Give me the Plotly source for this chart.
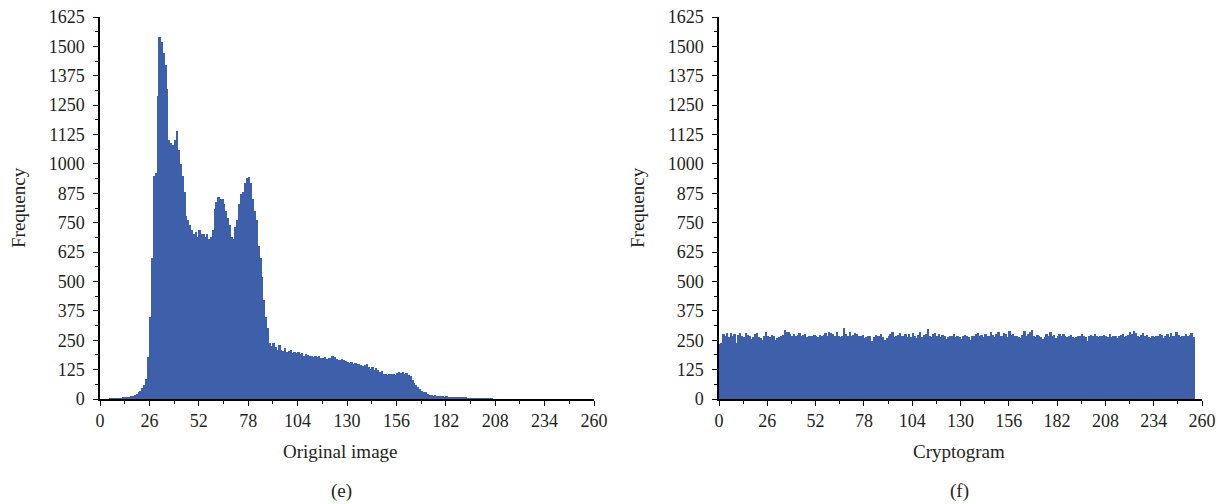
import plotly.graph_objects as go

# Grey levels 0..255
levels = list(range(256))

# Histogram of the original image (frequency per grey level)
original_freq = [
    0, 0, 0, 0, 0, 1, 1, 1, 2, 2, 3, 4, 5, 6, 7, 9,
    11, 14, 18, 22, 28, 35, 45, 60, 85, 180, 350, 600, 950, 960, 1290, 1540,
    1520, 1470, 1420, 1320, 1100, 1090, 1080, 1100, 1140, 1060, 1000, 950, 880, 780, 760, 740,
    720, 700, 710, 690, 720, 700, 700, 690, 700, 680, 690, 720, 810, 840, 860, 850,
    850, 830, 800, 770, 740, 690, 680, 730, 760, 830, 870, 880, 920, 940, 945, 920,
    850, 800, 760, 650, 600, 520, 420, 350, 300, 240, 225, 240, 220, 210, 230, 210,
    205, 215, 200, 205, 210, 195, 200, 195, 200, 190, 195, 185, 190, 188, 182, 185,
    180, 184, 178, 182, 176, 174, 178, 172, 176, 174, 183, 178, 170, 168, 166, 170,
    164, 160, 158, 155, 156, 150, 152, 148, 150, 144, 140, 146, 150, 138, 128, 136,
    124, 130, 122, 114, 118, 108, 106, 104, 106, 108, 106, 104, 112, 115, 110, 113,
    108, 112, 104, 96, 82, 70, 60, 50, 42, 34, 30, 28, 22, 18, 16, 14,
    15, 13, 12, 12, 11, 10, 12, 10, 9, 8, 8, 7, 7, 6, 6, 5,
    5, 4, 4, 3, 3, 3, 2, 2, 2, 2, 1, 1, 1, 1, 1, 0,
    0, 0, 0, 0, 0, 0, 0, 0, 0, 0, 0, 0, 0, 0, 0, 0,
    0, 0, 0, 0, 0, 0, 0, 0, 0, 0, 0, 0, 0, 0, 0, 0,
    0, 0, 0, 0, 0, 0, 0, 0, 0, 0, 0, 0, 0, 0, 0, 0,
]

# Histogram of the cryptogram (frequency per grey level)
cipher_freq = [
    232, 240, 278, 270, 281, 265, 279, 268, 276, 240, 272, 281, 270, 262, 279, 274,
    268, 256, 262, 275, 281, 262, 258, 250, 266, 285, 270, 262, 272, 266, 249, 258,
    262, 268, 274, 292, 287, 283, 278, 270, 276, 268, 274, 280, 266, 271, 276, 262,
    270, 266, 268, 271, 266, 262, 272, 266, 274, 280, 270, 285, 282, 276, 268, 284,
    270, 262, 270, 302, 278, 268, 286, 266, 274, 280, 276, 270, 268, 272, 258, 264,
    270, 268, 248, 262, 273, 268, 268, 276, 264, 252, 260, 268, 276, 286, 262, 270,
    273, 281, 266, 268, 276, 262, 276, 264, 282, 270, 260, 272, 287, 262, 273, 276,
    298, 270, 264, 278, 281, 266, 276, 262, 272, 270, 256, 262, 266, 270, 278, 264,
    268, 262, 256, 270, 274, 266, 262, 252, 266, 270, 276, 282, 268, 274, 262, 278,
    270, 266, 284, 272, 262, 278, 286, 268, 270, 282, 276, 264, 288, 272, 276, 266,
    270, 262, 258, 274, 290, 268, 276, 286, 294, 270, 262, 274, 268, 264, 256, 262,
    276, 270, 284, 266, 272, 258, 270, 278, 268, 276, 266, 262, 270, 274, 264, 258,
    262, 270, 266, 276, 268, 262, 248, 268, 272, 266, 276, 270, 262, 268, 266, 274,
    270, 264, 276, 262, 266, 270, 258, 268, 272, 278, 262, 266, 272, 284, 276, 290,
    280, 270, 262, 272, 282, 266, 274, 262, 258, 270, 264, 270, 266, 278, 272, 260,
    268, 276, 262, 282, 270, 266, 286, 274, 262, 270, 266, 276, 268, 272, 280, 262,
]

x_ticks = [0, 26, 52, 78, 104, 130, 156, 182, 208, 234, 260]
y_ticks = [0, 125, 250, 375, 500, 625, 750, 875, 1000, 1125, 1250, 1375, 1500, 1625]

BAR_COLOR = "#3e5fa9"
FONT = "Liberation Serif"
TXT = "#231f20"

fig = go.Figure()
fig.add_trace(go.Bar(x=levels, y=original_freq, width=1, offset=0,
                     marker=dict(color=BAR_COLOR, line=dict(width=0)),
                     xaxis="x", yaxis="y", showlegend=False))
fig.add_trace(go.Bar(x=levels, y=cipher_freq, width=1, offset=0,
                     marker=dict(color=BAR_COLOR, line=dict(width=0)),
                     xaxis="x2", yaxis="y2", showlegend=False))

W, H = 1228, 504
yd = [(H - 399) / H, (H - 17) / H]

def xaxis(d, anchor):
    return dict(domain=d, anchor=anchor, range=[0, 260], tickvals=x_ticks,
                ticktext=[str(v) for v in x_ticks],
                showline=True, linecolor="black", linewidth=1.5,
                ticks="outside", ticklen=5, tickwidth=1.3, tickcolor="black",
                minor=dict(ticks="outside", ticklen=3, tickwidth=1, tickcolor="black", dtick=13),
                showgrid=False, zeroline=False, automargin=False,
                tickfont=dict(family=FONT, size=18, color=TXT), fixedrange=True)

def yaxis(anchor):
    return dict(domain=yd, anchor=anchor, range=[0, 1625], tickvals=y_ticks,
                ticktext=[str(v) for v in y_ticks],
                showline=True, linecolor="black", linewidth=1.5,
                ticks="outside", ticklen=5, tickwidth=1.3, tickcolor="black",
                minor=dict(ticks="outside", ticklen=3, tickwidth=1, tickcolor="black", dtick=62.5),
                showgrid=False, zeroline=False, automargin=False,
                ticklabelstandoff=5,
                tickfont=dict(family=FONT, size=18, color=TXT), fixedrange=True)

fig.update_layout(
    width=W, height=H,
    margin=dict(l=0, r=0, t=0, b=0),
    paper_bgcolor="white", plot_bgcolor="white",
    bargap=0,
    xaxis=xaxis([100 / W, 594 / W], "y"),
    yaxis=yaxis("x"),
    xaxis2=xaxis([719 / W, 1202 / W], "y2"),
    yaxis2=yaxis("x2"),
)

def ann(text, x, y, angle=0):
    fig.add_annotation(text=text, x=x / W, y=1 - y / H, xref="paper", yref="paper",
                       showarrow=False, textangle=angle,
                       font=dict(family=FONT, size=19, color=TXT),
                       xanchor="center", yanchor="middle")

ann("Frequency", 18, 208, -90)
ann("Frequency", 637, 208, -90)
ann("Original image", 340, 451)
ann("Cryptogram", 959, 451)
ann("(e)", 341, 491)
ann("(f)", 959, 491)

fig.write_html("out.html")
